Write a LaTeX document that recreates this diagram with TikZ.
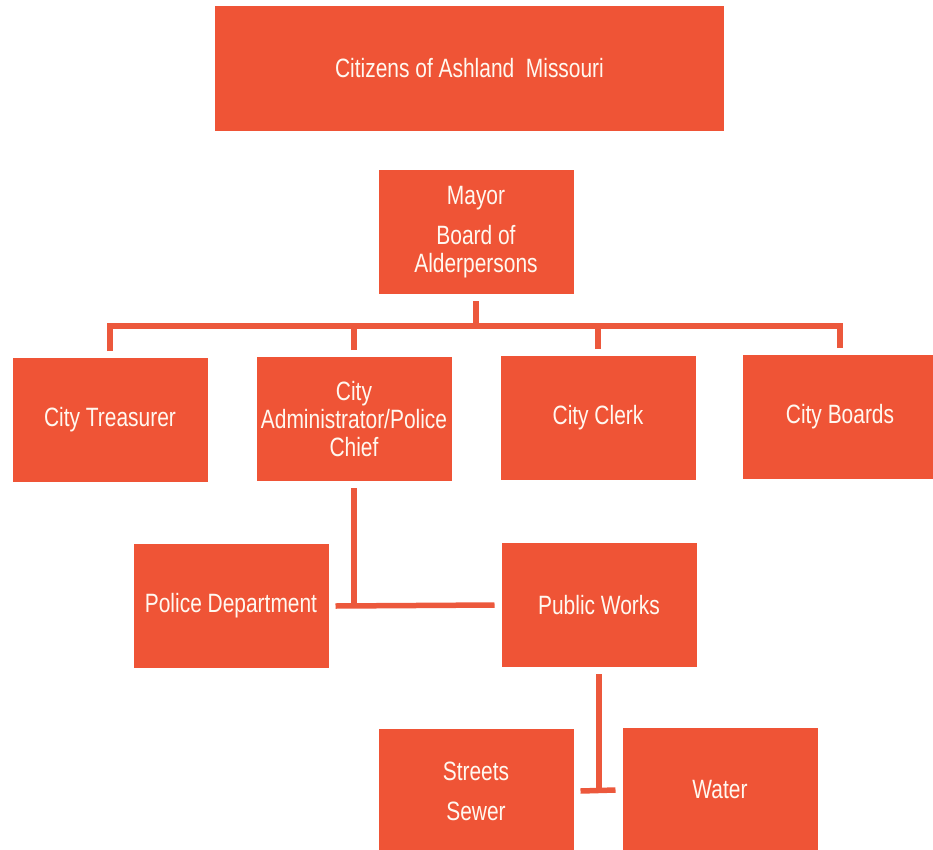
\documentclass[tikz,border=0pt]{standalone}
\usepackage{fontspec}
\setmainfont{Liberation Sans}[FakeStretch=0.79]
\definecolor{boxred}{RGB}{239,84,54}
\definecolor{linered}{RGB}{236,88,60}
\definecolor{txt}{RGB}{255,248,240}
\begin{document}
\begin{tikzpicture}[x=1pt,y=-1pt,
  orgbox/.style={fill=boxred, draw=none, minimum width=195pt, minimum height=124pt,
    inner sep=0pt, outer sep=7pt, align=center, text=txt,
    font=\fontsize{26.5}{28}\selectfont},
  conn/.style={draw=linered, line width=5.5pt, line join=miter}]
\useasboundingbox (0,0) rectangle (933,850);
\clip (0,0) rectangle (933,850);
\node[orgbox, minimum width=509pt, minimum height=125pt] (citizens) at (469.5,68.5) {Citizens of Ashland\ \ Missouri};
\node[orgbox] (mayor) at (476,232) {Mayor\\[12pt]Board of\\Alderpersons};
\node[orgbox] (treas) at (110,420) {City Treasurer};
\node[orgbox] (admin) at (354,419) {City\\Administrator/Police\\Chief};
\node[orgbox] (clerk) at (598,418) {City Clerk};
\node[orgbox] (boards) at (840,417) {City Boards};
\node[orgbox] (police) at (231,606) {Police Department};
\node[orgbox] (pw) at (599,605) {Public Works};
\node[orgbox] (streets) at (476,791) {Streets\\[12pt]Sewer};
\node[orgbox] (water) at (720,790) {Water};
\coordinate (bus) at (476,326);
\draw[conn] (mayor.south) -- (bus);
\draw[conn] (treas.north) |- (bus);
\draw[conn] (boards.north) |- (bus);
\draw[conn] (admin.north) -- (admin.north |- bus);
\draw[conn] (clerk.north) -- (clerk.north |- bus);
\draw[conn] (police.east) -- (pw.west);
\draw[conn] (admin.south) -- (admin.south |- police.east);
\draw[conn] (streets.east) -- (water.west);
\draw[conn] (pw.south) -- (pw.south |- streets.east);
\end{tikzpicture}
\end{document}
